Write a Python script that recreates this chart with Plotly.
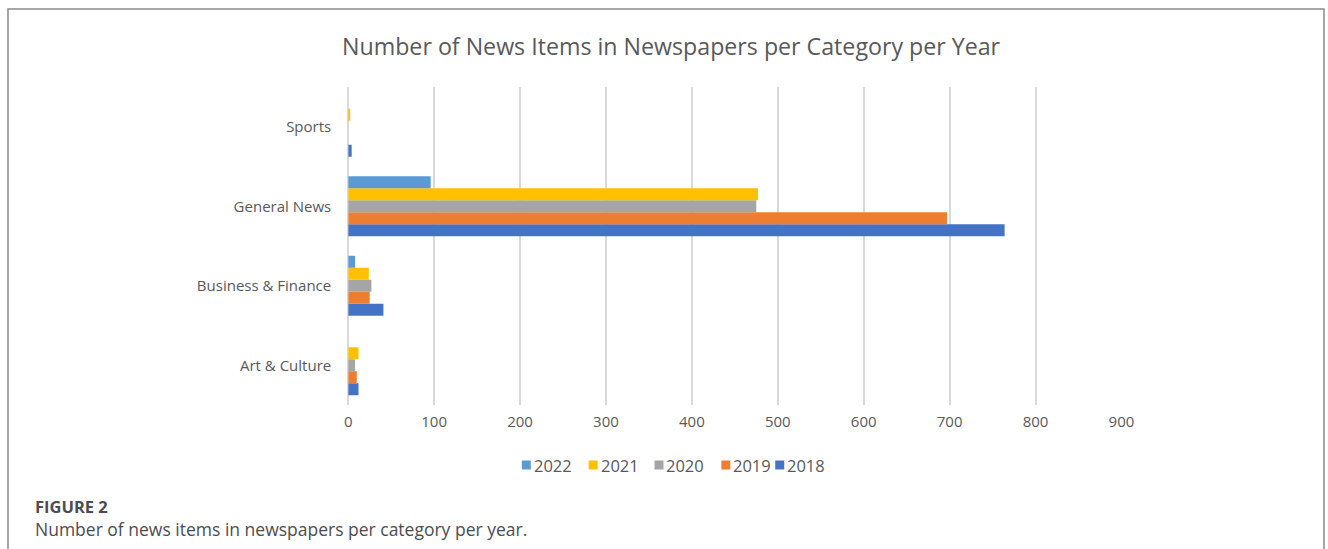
import plotly.graph_objects as go

W, H = 1328, 549
W_EFF = 1314  # observed effective drawing width in the renderer

categories = ["Art & Culture", "Business & Finance", "General News", "Sports"]
years = ["2018", "2019", "2020", "2021", "2022"]
values_2018 = [12, 41, 764, 4]
values_2019 = [10, 25, 697, 0]
values_2020 = [8, 27, 475, 0]
values_2021 = [12, 24, 477, 2]
values_2022 = [0, 8, 96, 0]
x_ticks = [0, 100, 200, 300, 400, 500, 600, 700, 800, 900]
legend_order = ["2022", "2021", "2020", "2019", "2018"]

series = {
    "2018": values_2018,
    "2019": values_2019,
    "2020": values_2020,
    "2021": values_2021,
    "2022": values_2022,
}
colors = {
    "2018": "#4472C4",
    "2019": "#ED7D31",
    "2020": "#A5A5A5",
    "2021": "#FFC000",
    "2022": "#5B9BD5",
}

fig = go.Figure()
for yr in years:
    fig.add_trace(go.Bar(
        y=categories, x=series[yr], name=yr, orientation="h",
        marker=dict(color=colors[yr], line=dict(width=0)),
        showlegend=False,
    ))

def px_x(p):
    return p / W_EFF

def px_y(p):
    return 1 - p / H

txt = "#595959"
fig.update_layout(
    width=W, height=H, autosize=False,
    margin=dict(l=0, r=0, t=0, b=0),
    paper_bgcolor="white", plot_bgcolor="white",
    barmode="group", bargap=0.245, bargroupgap=0,
    font=dict(family="Open Sans", color=txt),
    title=dict(
        text="Number of News Items in Newspapers per Category per Year",
        x=px_x(664), xanchor="center", y=px_y(47), yanchor="middle",
        font=dict(size=23.2, color=txt, family="Open Sans"),
    ),
    xaxis=dict(
        domain=[px_x(345), px_x(1120)], range=[0, 900],
        tickvals=x_ticks, ticktext=[str(t) for t in x_ticks],
        showgrid=True, gridcolor="#D9D9D9", gridwidth=2,
        zeroline=True, zerolinecolor="#D9D9D9", zerolinewidth=2,
        showline=False, ticks="", tickfont=dict(size=15, color=txt),
        ticklabelstandoff=6, fixedrange=True,
    ),
    yaxis=dict(
        domain=[px_y(405), px_y(87)],
        categoryorder="array", categoryarray=categories,
        showgrid=False, zeroline=False, showline=False, ticks="",
        tickfont=dict(size=15, color=txt), ticklabelstandoff=16,
    ),
    showlegend=False,
)

# custom compact legend (Excel style)
legend_sq_left = [519, 586, 652, 719, 773]
for yr, sx in zip(legend_order, legend_sq_left):
    fig.add_shape(type="rect", xref="paper", yref="paper",
                  x0=px_x(sx), x1=px_x(sx + 9), y0=px_y(469.5), y1=px_y(460.5),
                  line=dict(width=0), fillcolor=colors[yr])
    fig.add_annotation(text=yr, xref="paper", yref="paper",
                       x=px_x(sx + 10), y=px_y(465), xanchor="left", yanchor="middle",
                       showarrow=False, font=dict(size=16.5, color=txt, family="Open Sans"))

fig.add_shape(type="rect", xref="paper", yref="paper",
              x0=px_x(4), x1=px_x(1323), y0=-0.2, y1=px_y(9),
              line=dict(color="#8A8A8A", width=1.5), fillcolor="rgba(0,0,0,0)", layer="below")

fig.add_annotation(text="<b>FIGURE 2</b>", xref="paper", yref="paper",
                   x=px_x(29), y=px_y(506), xanchor="left", yanchor="middle",
                   showarrow=False, font=dict(size=16.5, color="#4D4D4F", family="Open Sans"))
fig.add_annotation(text="Number of news items in newspapers per category per year.",
                   xref="paper", yref="paper",
                   x=px_x(29), y=px_y(529), xanchor="left", yanchor="middle",
                   showarrow=False, font=dict(size=17.5, color="#4D4D4F", family="Open Sans"))

fig.write_html("out.html", config={"responsive": False})
